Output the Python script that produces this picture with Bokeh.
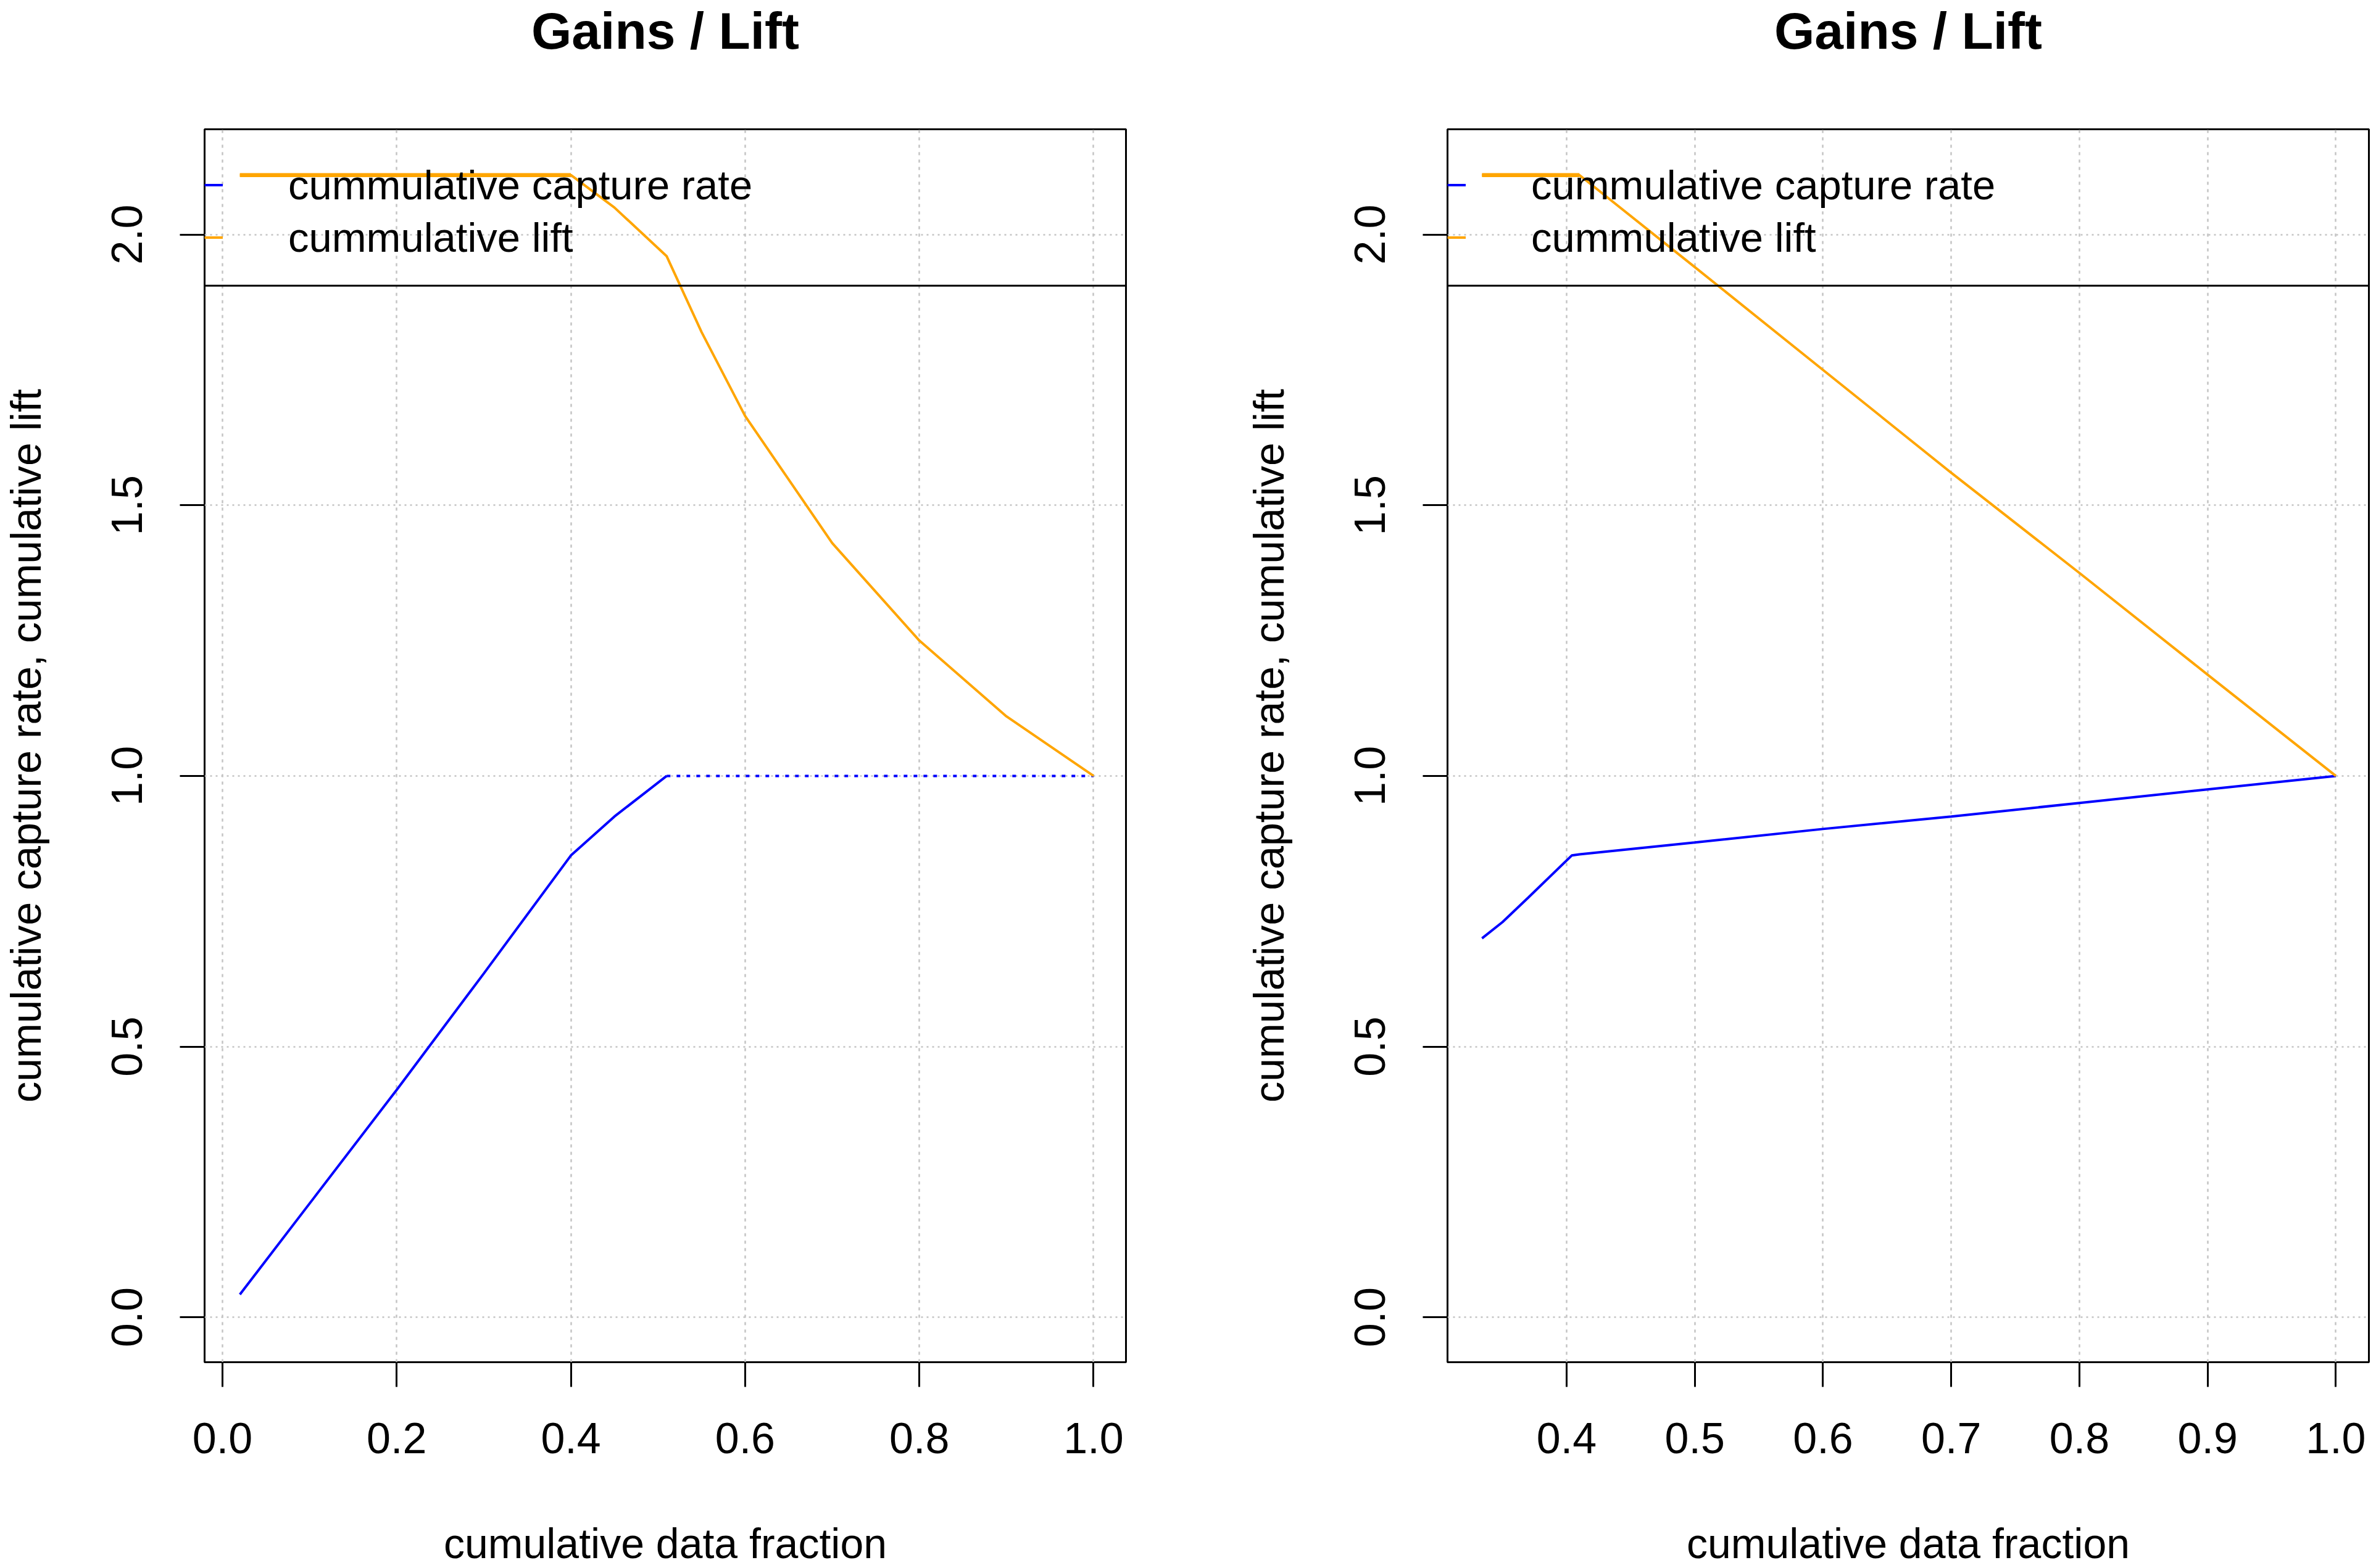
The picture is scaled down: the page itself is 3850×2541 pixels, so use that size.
from bokeh.plotting import figure
from bokeh.layouts import row
from bokeh.models import (Range1d, FixedTicker, NumeralTickFormatter, Legend,
                          LegendItem, Span, Title)
from bokeh.embed import file_html
from bokeh.resources import INLINE

# ---------------- data ----------------
# left panel
frac_a = [0.02, 0.10, 0.20, 0.30, 0.40, 0.45, 0.51, 0.55, 0.60, 0.70, 0.80, 0.90, 1.00]
capture_a = [0.042, 0.21, 0.42, 0.635, 0.853, 0.925, 1.0, 1.0, 1.0, 1.0, 1.0, 1.0, 1.0]
lift_a = [2.11, 2.11, 2.11, 2.11, 2.11, 2.05, 1.96, 1.82, 1.665, 1.43, 1.25, 1.11, 1.0]

# right panel
frac_b = [0.334, 0.35, 0.37, 0.404, 0.41, 0.50, 0.60, 0.70, 0.80, 0.90, 1.00]
capture_b = [0.70, 0.73, 0.775, 0.853, 0.855, 0.877, 0.902, 0.925, 0.95, 0.975, 1.00]
lift_b = [2.11, 2.11, 2.11, 2.11, 2.11, 1.94, 1.75, 1.56, 1.375, 1.187, 1.0]

x_ticks_a = [0.0, 0.2, 0.4, 0.6, 0.8, 1.0]
x_ticks_b = [0.4, 0.5, 0.6, 0.7, 0.8, 0.9, 1.0]
y_ticks = [0.0, 0.5, 1.0, 1.5, 2.0]

title_text = "Gains / Lift"
x_label = "cumulative data fraction"
y_label = "cumulative capture rate, cumulative lift"
legend_labels = ["cummulative capture rate", "cummulative lift"]

# ---------------- style ----------------
FONT = "Liberation Sans"
FS = "70px"
FS_LAB = "68px"
FS_LEG = "67px"
BLUE = "#0000FF"
ORANGE = "#FFA500"
GRID = "#C4C4C4"
LW = 4
Y_RANGE = (-0.0831, 2.1946)
LEGEND_BOTTOM = 1.9055
FIG_H = 2541
FRAME_TOP = 209
FRAME_H = 2001


def make_panel(frac, capture, lift, x_ticks, x_range, width, mb_left, mb_right):
    p = figure(width=width, height=FIG_H, output_backend="svg", toolbar_location=None,
               x_range=Range1d(*x_range), y_range=Range1d(*Y_RANGE),
               min_border_left=mb_left, min_border_right=mb_right,
               min_border_top=FRAME_TOP, min_border_bottom=FIG_H - FRAME_TOP - FRAME_H,
               background_fill_color="white", border_fill_color="white")
    p.outline_line_color = "black"
    p.outline_line_width = 3
    p.outline_line_alpha = 1

    # main title, centred over the plot box, near the top edge
    p.title.text = title_text
    p.title.align = "center"
    p.title.vertical_align = "bottom"
    p.title.standoff = 0
    p.title.text_font = FONT
    p.title.text_font_size = "84px"
    p.title.text_font_style = "bold"
    p.title.text_color = "black"
    # blank spacer between the title and the plot box
    p.add_layout(Title(text=" ", text_font_size="10px", standoff=100), "above")

    # grid
    p.xgrid.ticker = FixedTicker(ticks=x_ticks)
    p.ygrid.ticker = FixedTicker(ticks=y_ticks)
    for g in (p.xgrid, p.ygrid):
        g.grid_line_color = GRID
        g.grid_line_width = 2.5
    p.xgrid.grid_line_dash = "5 7"
    p.ygrid.grid_line_dash = "3 6"

    # axes
    for ax in (p.xaxis, p.yaxis):
        ax.axis_line_color = None
        ax.major_tick_in = 0
        ax.major_tick_out = 40
        ax.minor_tick_in = 0
        ax.minor_tick_out = 0
        ax.major_tick_line_color = "black"
        ax.major_tick_line_width = 3
        ax.major_label_text_font = FONT
        ax.major_label_text_font_size = FS
        ax.major_label_text_color = "black"
        ax.axis_label_text_font = FONT
        ax.axis_label_text_font_size = FS_LAB
        ax.axis_label_text_font_style = "normal"
        ax.axis_label_text_color = "black"
        ax.formatter = NumeralTickFormatter(format="0.0")
    p.xaxis.ticker = FixedTicker(ticks=x_ticks)
    p.yaxis.ticker = FixedTicker(ticks=y_ticks)
    p.xaxis.axis_label = x_label
    p.yaxis.axis_label = y_label
    p.xaxis.major_label_standoff = 58
    p.xaxis.axis_label_standoff = 105
    p.yaxis.major_label_orientation = "vertical"
    p.yaxis.major_label_standoff = 61
    p.yaxis.axis_label_standoff = 99

    # capture curve: solid while rising, dotted once it reaches 1.0
    k = next(i for i, v in enumerate(capture) if v >= 1.0)
    r_cap = p.line(frac[:k + 1], capture[:k + 1], line_color=BLUE, line_width=LW)
    if len(frac) - k >= 2:
        p.line(frac[k:], capture[k:], line_color=BLUE, line_width=LW, line_dash="6 10")
    r_lift = p.line(frac, lift, line_color=ORANGE, line_width=LW)
    # the flat top of the lift curve appears heavier in the original
    top = max(lift)
    n_top = sum(1 for v in lift if v >= top - 1e-9)
    p.line(frac[:n_top], lift[:n_top], line_color=ORANGE, line_width=6.5)

    # legend box bottom edge (box spans the whole plot width)
    p.add_layout(Span(location=LEGEND_BOTTOM, dimension="width",
                      line_color="black", line_width=3))

    legend = Legend(items=[LegendItem(label=legend_labels[0], renderers=[r_cap]),
                           LegendItem(label=legend_labels[1], renderers=[r_lift])],
                    location=(0, FRAME_H - 50.5 - 170), orientation="vertical",
                    glyph_width=30, glyph_height=85, label_height=85,
                    label_standoff=106, padding=0, spacing=0, margin=0,
                    background_fill_alpha=0, border_line_color=None,
                    label_text_font=FONT, label_text_font_size=FS_LEG,
                    label_text_color="black")
    p.add_layout(legend, "center")
    return p


p1 = make_panel(frac_a, capture_a, lift_a, x_ticks_a, (-0.0205, 1.0372), 1950, 330, 126)
p2 = make_panel(frac_b, capture_b, lift_b, x_ticks_b, (0.3071, 1.0258), 1900, 395, 12)

layout = row(p1, p2)
open("out.html", "w").write(file_html(layout, INLINE))
